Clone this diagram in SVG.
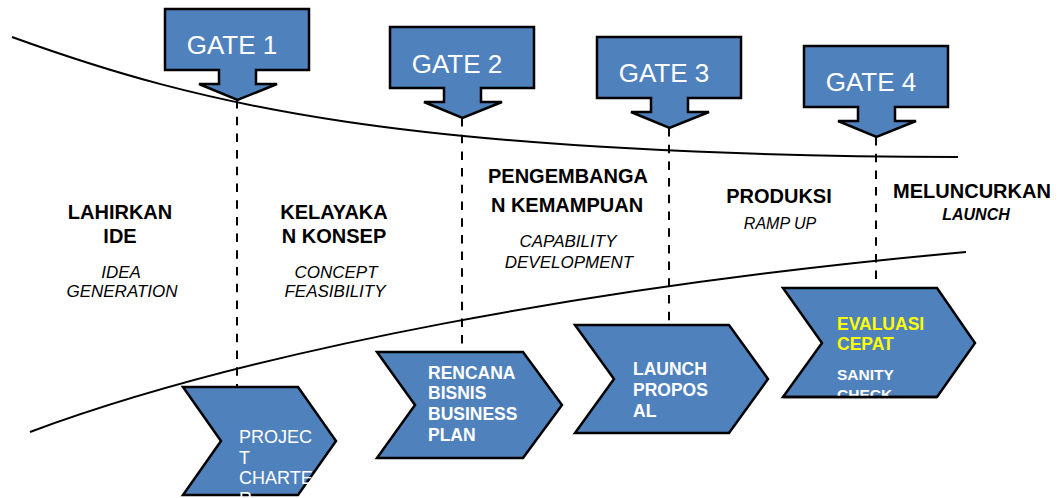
<svg xmlns="http://www.w3.org/2000/svg" width="1061" height="498" viewBox="0 0 1061 498">
  <style>
    .shape { fill: #4F81BD; stroke: #000; stroke-width: 2.5; stroke-linejoin: miter; }
    .curve { fill: none; stroke: #000; stroke-width: 2; }
    .dash { fill: none; stroke: #000; stroke-width: 2; stroke-dasharray: 8.5 8.2; }
    .gate-label { font-family: "Liberation Sans", Arial, sans-serif; font-size: 26px; fill: #fff; text-anchor: middle; }
    .phase { font-family: "Liberation Sans", Arial, sans-serif; font-size: 20px; font-weight: bold; fill: #000; text-anchor: middle; }
    .phase-en { font-family: "Liberation Sans", Arial, sans-serif; font-size: 17px; font-style: italic; fill: #000; text-anchor: middle; }
    .step { font-family: "Liberation Sans", Arial, sans-serif; font-size: 17.5px; font-weight: bold; fill: #fff; }
    .step-plain { font-family: "Liberation Sans", Arial, sans-serif; font-size: 18px; fill: #fff; }
    .step-hi { fill: #FFFF00; }
  </style>
  <defs>
    <path id="gate-shape" d="M0,0 H144 V61 H91 V75 H112 L72.5,91 L34,75 H54 V61 H0 Z"/>
    <clipPath id="clip-eval">
      <path d="M783,288 H937 L975,343 L937,397 H783 L822,343 Z"/>
    </clipPath>
  </defs>

  <rect width="1061" height="498" fill="#fff"/>

  <!-- boundary curves of the funnel -->
  <g id="curves">
    <path class="curve" d="M12,37 C200,105 400,155 958,157"/>
    <path class="curve" d="M30,432 C250,350 600,285 966,252"/>
  </g>

  <!-- dashed drops from each gate to its deliverable -->
  <g id="connectors">
    <line class="dash" x1="237" y1="100" x2="237" y2="387"/>
    <line class="dash" x1="462" y1="118" x2="462" y2="352"/>
    <line class="dash" x1="669" y1="128" x2="669" y2="325"/>
    <line class="dash" x1="876" y1="137" x2="876" y2="288"/>
  </g>

  <!-- gates -->
  <g id="gate1" transform="translate(165,9)">
    <use href="#gate-shape" class="shape"/>
    <text class="gate-label" x="67" y="45">GATE 1</text>
  </g>
  <g id="gate2" transform="translate(390,27)">
    <use href="#gate-shape" class="shape"/>
    <text class="gate-label" x="67" y="46">GATE 2</text>
  </g>
  <g id="gate3" transform="translate(597,37)">
    <use href="#gate-shape" class="shape"/>
    <text class="gate-label" x="67" y="45">GATE 3</text>
  </g>
  <g id="gate4" transform="translate(804,46)">
    <use href="#gate-shape" class="shape"/>
    <text class="gate-label" x="67" y="45">GATE 4</text>
  </g>

  <!-- phase labels -->
  <g id="phase-idea">
    <text class="phase" x="120" y="219">LAHIRKAN</text>
    <text class="phase" x="120" y="243">IDE</text>
    <text class="phase-en" x="121" y="278">IDEA</text>
    <text class="phase-en" x="122" y="297">GENERATION</text>
  </g>
  <g id="phase-concept">
    <text class="phase" x="334" y="219">KELAYAKA</text>
    <text class="phase" x="334" y="243">N KONSEP</text>
    <text class="phase-en" x="336" y="278">CONCEPT</text>
    <text class="phase-en" x="335" y="297">FEASIBILITY</text>
  </g>
  <g id="phase-capability">
    <text class="phase" x="568" y="183">PENGEMBANGA</text>
    <text class="phase" x="567" y="212">N KEMAMPUAN</text>
    <text class="phase-en" x="568" y="247">CAPABILITY</text>
    <text class="phase-en" x="569" y="268">DEVELOPMENT</text>
  </g>
  <g id="phase-production">
    <text class="phase" x="779" y="203">PRODUKSI</text>
    <text class="phase-en" x="780" y="229" style="font-size:16px">RAMP UP</text>
  </g>
  <g id="phase-launch">
    <text class="phase" x="972" y="198">MELUNCURKAN</text>
    <text class="phase-en" x="976" y="220" style="font-size:16px;font-weight:bold">LAUNCH</text>
  </g>

  <!-- deliverables -->
  <g id="project-charter">
    <path class="shape" d="M183,387 H298 L336,441 L298,495 H183 L221,441 Z"/>
    <text class="step-plain" x="239" y="443">PROJEC</text>
    <text class="step-plain" x="239" y="464">T</text>
    <text class="step-plain" x="239" y="484">CHARTE</text>
    <text class="step-plain" x="239" y="505">R</text>
  </g>
  <g id="business-plan">
    <path class="shape" d="M377,352 H523 L562,405 L523,458 H377 L415,405 Z"/>
    <text class="step" x="428" y="379">RENCANA</text>
    <text class="step" x="428" y="399">BISNIS</text>
    <text class="step" x="428" y="420">BUSINESS</text>
    <text class="step" x="428" y="441">PLAN</text>
  </g>
  <g id="launch-proposal">
    <path class="shape" d="M575,325 H729 L768,379 L729,433 H575 L614,379 Z"/>
    <text class="step" x="633" y="375">LAUNCH</text>
    <text class="step" x="633" y="396">PROPOS</text>
    <text class="step" x="633" y="417">AL</text>
  </g>
  <g id="sanity-check">
    <path class="shape" d="M783,288 H937 L975,343 L937,397 H783 L822,343 Z"/>
    <g clip-path="url(#clip-eval)">
      <text class="step step-hi" x="837" y="330">EVALUASI</text>
      <text class="step step-hi" x="837" y="350">CEPAT</text>
      <text class="step" x="837" y="380" style="font-size:15.5px">SANITY</text>
      <text class="step" x="837" y="400" style="font-size:15.5px">CHECK</text>
    </g>
    <path d="M783,397 H937" fill="none" stroke="#000" stroke-width="2.5"/>
  </g>
</svg>
